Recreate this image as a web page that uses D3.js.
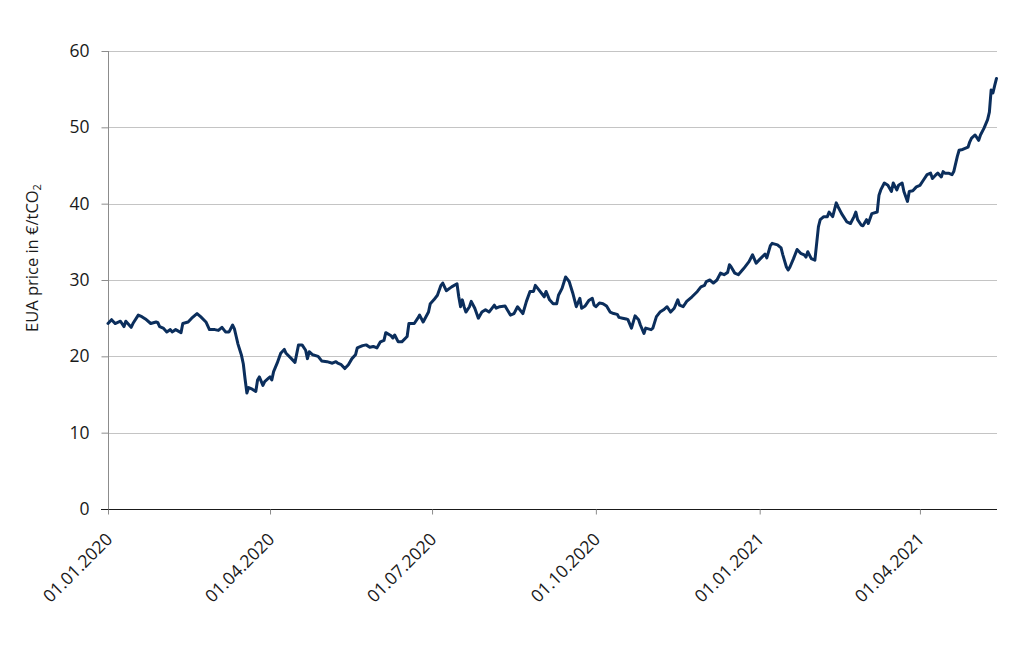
<!DOCTYPE html>
<html>
<head>
<meta charset="utf-8">
<script src="https://cdn.jsdelivr.net/npm/d3@7"></script>
<style>
  html, body { margin: 0; padding: 0; background: #ffffff; }
  svg { display: block; font-family: "Open Sans", sans-serif; }
</style>
</head>
<body>
<svg id="chart" width="1024" height="656"></svg>
<script>
// ---- Data ----
const dates = [
  "2020-01-01","2020-01-03","2020-01-05","2020-01-08","2020-01-10","2020-01-11","2020-01-14","2020-01-15","2020-01-18","2020-01-20",
  "2020-01-22","2020-01-25","2020-01-28","2020-01-29","2020-01-30","2020-02-01","2020-02-03","2020-02-05","2020-02-06","2020-02-08",
  "2020-02-11","2020-02-12","2020-02-15","2020-02-17","2020-02-20","2020-02-22","2020-02-25","2020-02-27","2020-03-01","2020-03-03",
  "2020-03-05","2020-03-07","2020-03-09","2020-03-11","2020-03-12","2020-03-13","2020-03-14","2020-03-16","2020-03-17","2020-03-18",
  "2020-03-19","2020-03-20","2020-03-22","2020-03-24","2020-03-25","2020-03-26","2020-03-28","2020-03-29","2020-03-31","2020-04-01",
  "2020-04-02","2020-04-03","2020-04-05","2020-04-07","2020-04-09","2020-04-10","2020-04-13","2020-04-15","2020-04-17","2020-04-19",
  "2020-04-21","2020-04-22","2020-04-23","2020-04-25","2020-04-28","2020-04-30","2020-05-03","2020-05-06","2020-05-08","2020-05-09",
  "2020-05-11","2020-05-13","2020-05-15","2020-05-17","2020-05-19","2020-05-20","2020-05-23","2020-05-25","2020-05-27","2020-05-29",
  "2020-05-31","2020-06-02","2020-06-04","2020-06-05","2020-06-08","2020-06-09","2020-06-10","2020-06-12","2020-06-14","2020-06-17",
  "2020-06-18","2020-06-21","2020-06-23","2020-06-24","2020-06-26","2020-06-29","2020-06-30","2020-07-02","2020-07-04","2020-07-06",
  "2020-07-07","2020-07-09","2020-07-12","2020-07-15","2020-07-16","2020-07-17","2020-07-18","2020-07-19","2020-07-20","2020-07-22",
  "2020-07-23","2020-07-25","2020-07-27","2020-07-29","2020-07-31","2020-08-02","2020-08-05","2020-08-06","2020-08-08","2020-08-11",
  "2020-08-14","2020-08-16","2020-08-18","2020-08-21","2020-08-23","2020-08-25","2020-08-27","2020-08-28","2020-08-30","2020-09-02",
  "2020-09-03","2020-09-05","2020-09-07","2020-09-09","2020-09-10","2020-09-12","2020-09-14","2020-09-16","2020-09-18","2020-09-20",
  "2020-09-22","2020-09-23","2020-09-25","2020-09-27","2020-09-29","2020-09-30","2020-10-01","2020-10-03","2020-10-05","2020-10-07",
  "2020-10-09","2020-10-11","2020-10-13","2020-10-14","2020-10-16","2020-10-18","2020-10-19","2020-10-21","2020-10-23","2020-10-25",
  "2020-10-26","2020-10-28","2020-10-29","2020-11-01","2020-11-02","2020-11-04","2020-11-06","2020-11-08","2020-11-10","2020-11-12",
  "2020-11-14","2020-11-16","2020-11-17","2020-11-19","2020-11-21","2020-11-24","2020-11-27","2020-11-29","2020-12-01","2020-12-02",
  "2020-12-04","2020-12-06","2020-12-08","2020-12-10","2020-12-12","2020-12-14","2020-12-15","2020-12-16","2020-12-18","2020-12-20",
  "2020-12-23","2020-12-26","2020-12-28","2020-12-30","2021-01-01","2021-01-04","2021-01-05","2021-01-07","2021-01-08","2021-01-11",
  "2021-01-13","2021-01-14","2021-01-16","2021-01-17","2021-01-18","2021-01-20","2021-01-22","2021-01-24","2021-01-26","2021-01-27",
  "2021-01-28","2021-01-30","2021-02-01","2021-02-03","2021-02-04","2021-02-06","2021-02-08","2021-02-09","2021-02-11","2021-02-13",
  "2021-02-14","2021-02-16","2021-02-19","2021-02-21","2021-02-23","2021-02-24","2021-02-25","2021-02-27","2021-02-28","2021-03-02",
  "2021-03-03","2021-03-05","2021-03-08","2021-03-09","2021-03-10","2021-03-12","2021-03-14","2021-03-16","2021-03-17","2021-03-19",
  "2021-03-20","2021-03-22","2021-03-23","2021-03-25","2021-03-26","2021-03-28","2021-03-30","2021-04-01","2021-04-03","2021-04-05",
  "2021-04-07","2021-04-08","2021-04-10","2021-04-11","2021-04-13","2021-04-14","2021-04-15","2021-04-17","2021-04-19","2021-04-20",
  "2021-04-22","2021-04-23","2021-04-25","2021-04-28","2021-04-29","2021-04-30","2021-05-02","2021-05-04","2021-05-05","2021-05-07",
  "2021-05-09","2021-05-10","2021-05-11","2021-05-12","2021-05-13","2021-05-14"
];
const prices = [
  24.3,24.8,24.3,24.6,23.9,24.6,23.8,24.3,25.4,25.2,
  24.9,24.3,24.5,24.4,23.9,23.7,23.2,23.5,23.2,23.5,
  23.1,24.3,24.5,25.0,25.6,25.2,24.5,23.5,23.5,23.4,
  23.8,23.2,23.2,24.1,23.6,22.6,21.6,20.1,19.0,17.0,
  15.2,15.9,15.7,15.4,16.9,17.3,16.2,16.7,17.1,17.3,
  16.9,18.0,19.1,20.4,20.9,20.4,19.7,19.2,21.5,21.5,
  20.8,19.7,20.6,20.2,20.0,19.4,19.3,19.1,19.3,19.1,
  18.9,18.4,18.9,19.7,20.2,21.1,21.4,21.5,21.2,21.3,
  21.1,21.9,22.1,23.1,22.7,22.4,22.8,21.9,21.9,22.6,
  24.3,24.3,25.0,25.4,24.5,25.8,26.9,27.4,28.0,29.3,
  29.6,28.6,29.1,29.5,27.8,26.5,27.4,26.5,25.8,26.5,
  27.2,26.3,25.0,25.8,26.1,25.8,26.7,26.3,26.5,26.6,
  25.4,25.6,26.5,25.6,27.2,28.5,28.5,29.3,28.7,27.8,
  28.5,27.4,26.9,26.9,28.0,28.9,30.4,29.8,28.3,26.5,
  27.6,26.3,26.6,27.3,27.6,26.7,26.5,27.0,26.9,26.6,
  25.8,25.6,25.5,25.1,25.0,24.9,24.8,23.7,25.3,24.8,
  24.1,23.0,23.7,23.5,23.7,25.2,25.8,26.1,26.5,25.8,
  26.3,27.4,26.7,26.5,27.2,27.8,28.5,29.1,29.3,29.8,
  30.0,29.6,30.0,30.9,30.7,31.0,32.0,31.7,30.9,30.7,
  31.5,32.4,33.3,32.2,32.7,33.4,32.9,34.5,34.8,34.6,
  34.2,33.3,31.7,31.3,31.7,32.8,34.0,33.5,33.3,33.0,
  33.7,32.8,32.6,37.0,37.9,38.3,38.3,38.9,38.3,40.1,
  39.6,38.7,37.6,37.4,38.3,38.9,37.9,37.2,37.1,37.9,
  37.4,38.7,38.9,41.1,41.8,42.7,42.4,41.6,42.7,41.8,
  42.4,42.7,41.6,40.3,41.6,41.7,42.2,42.4,43.1,43.8,
  44.0,43.3,43.8,44.0,43.5,44.2,44.0,44.0,43.8,44.2,
  46.2,47.0,47.1,47.4,48.1,48.6,49.0,48.3,49.0,49.9,
  51.0,52.0,54.9,54.5,55.5,56.4
];
const yTicks = [0, 10, 20, 30, 40, 50, 60];
const xTickDates = ["2020-01-01","2020-04-01","2020-07-01","2020-10-01","2021-01-01","2021-04-01"];
const xDomain = ["2020-01-01","2021-05-14"];
const yTitle = "EUA price in €/tCO";
const yTitleSub = "2";

// ---- Chart ----
(function () {
  const parse = d3.utcParse("%Y-%m-%d");
  const fmt = d3.utcFormat("%d.%m.%Y");
  const data = dates.map((d, i) => ({ date: parse(d), value: prices[i] }));

  const svg = d3.select("#chart");
  const mLeft = 108, mRight = 996.5, mTop = 51, mBottom = 509;

  const x = d3.scaleUtc().domain(xDomain.map(parse)).range([mLeft, mRight]);
  const y = d3.scaleLinear().domain([0, 60]).range([mBottom, mTop]);

  // gridlines
  svg.append("g")
    .selectAll("line")
    .data(yTicks.filter(t => t > 0))
    .join("line")
    .attr("x1", mLeft).attr("x2", 997)
    .attr("y1", d => Math.round(y(d)) + 0.5).attr("y2", d => Math.round(y(d)) + 0.5)
    .attr("stroke", "#c4c4c4").attr("stroke-width", 1);

  // y axis
  const yAxis = d3.axisLeft(y).tickValues(yTicks).tickSize(7).tickPadding(12).tickFormat(d3.format("d"));
  const gy = svg.append("g").attr("transform", `translate(${mLeft + 0.5},0)`).call(yAxis);
  gy.select(".domain").attr("stroke", "#8c8c8c").attr("d", `M0,${mTop}V${mBottom + 5}`);
  gy.selectAll(".tick line").attr("stroke", "#8c8c8c");
  gy.selectAll(".tick text")
    .attr("font-family", "'Open Sans', sans-serif")
    .attr("font-size", 17.5).attr("fill", "#1a1a1a");

  // x axis
  const xAxis = d3.axisBottom(x).tickValues(xTickDates.map(parse)).tickSize(5).tickFormat(fmt);
  const gx = svg.append("g").attr("transform", `translate(0,${mBottom + 0.5})`).call(xAxis);
  gx.select(".domain").attr("stroke", "#1a1a1a").attr("d", `M${mLeft - 7},0H997`);
  gx.selectAll(".tick line").attr("stroke", "#8c8c8c");
  gx.selectAll(".tick text")
    .attr("font-family", "'Open Sans', sans-serif")
    .attr("font-size", 17.5).attr("fill", "#1a1a1a")
    .attr("text-anchor", "end")
    .attr("dy", null).attr("y", null)
    .attr("transform", "translate(5,31) rotate(-45)");

  // y title
  const title = svg.append("text")
    .attr("transform", "translate(38,258) rotate(-90)")
    .attr("text-anchor", "middle")
    .attr("font-family", "'Open Sans', sans-serif")
    .attr("font-size", 16.5).attr("fill", "#1a1a1a");
  title.append("tspan").text(yTitle);
  title.append("tspan").attr("font-size", 11).attr("dy", 3).text(yTitleSub);

  // line
  const line = d3.line().x(d => x(d.date)).y(d => y(d.value)).curve(d3.curveLinear);
  svg.append("path")
    .datum(data)
    .attr("fill", "none")
    .attr("stroke", "#0b2e5c")
    .attr("stroke-width", 3)
    .attr("stroke-linejoin", "round")
    .attr("stroke-linecap", "round")
    .attr("d", line);
})();
</script>
</body>
</html>
